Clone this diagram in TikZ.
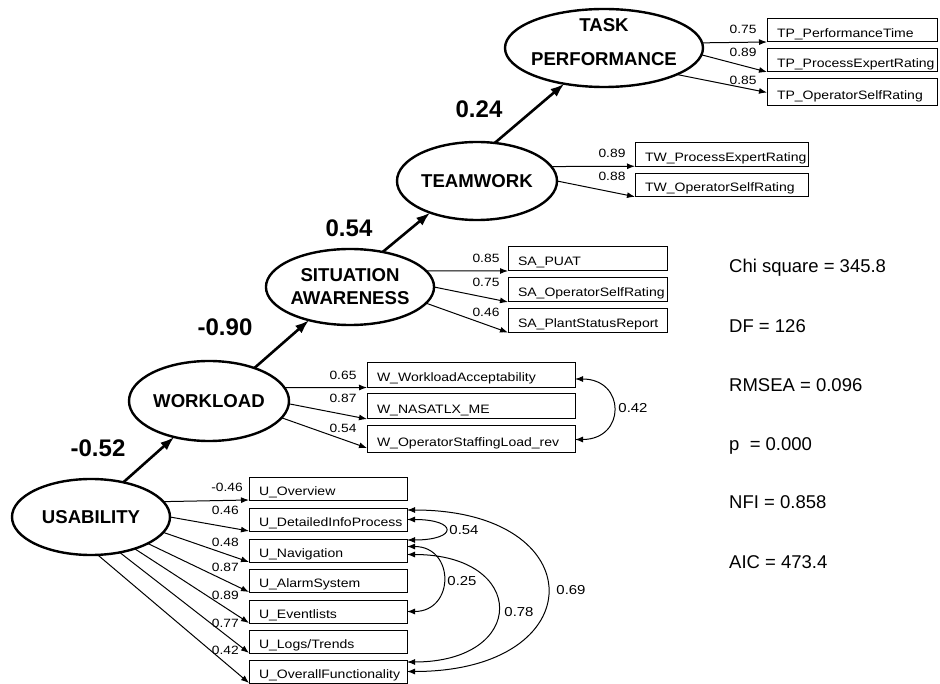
\documentclass[tikz,border=0pt]{standalone}
\usepackage{fontspec}
\setmainfont{Liberation Sans}
\newfontfamily\lblfont[FakeStretch=1.15]{Liberation Sans}
\usetikzlibrary{arrows.meta}
\usetikzlibrary{shapes.geometric}
\usetikzlibrary{calc}

\begin{document}
\begin{tikzpicture}[x=1pt,y=-1pt]
    \tikzstyle{lat} = [draw,ellipse,line width=2.4pt,inner sep=0pt,outer sep=0pt,align=center,font=\fontsize{18.6}{23}\selectfont\bfseries]
    \tikzstyle{obs} = [draw,rectangle,line width=1pt,anchor=west,inner xsep=10pt,inner ysep=0pt,outer sep=0pt,text width=#1,align=left,text height=16pt,text depth=2pt,font=\lblfont\fontsize{12.2}{14}\selectfont]
    \tikzstyle{num} = [inner sep=0pt,font=\lblfont\fontsize{12}{13}\selectfont]
    \tikzstyle{cnum} = [inner sep=0pt,font=\lblfont\fontsize{13}{14}\selectfont]
    \tikzstyle{coef} = [inner sep=0pt,font=\fontsize{24}{26}\selectfont\bfseries]
    \tikzstyle{stat} = [anchor=base west,inner sep=0pt,font=\fontsize{18.5}{20}\selectfont]
    \tikzstyle{reg} = [draw,line width=2.6pt,-{Latex[length=14pt,width=10pt]}]
    \tikzstyle{ld} = [draw,line width=1pt,-{Latex[length=8pt,width=6pt]}]
    \tikzstyle{cov} = [draw,line width=1pt,{Latex[length=8pt,width=6pt]}-{Latex[length=8pt,width=6pt]}]
    \useasboundingbox (0,0) rectangle (940,684);
    %% latent variables
    \node[lat,minimum width=158pt,minimum height=76pt] (us) at (91,517) {USABILITY};
    \node[lat,minimum width=160pt,minimum height=80pt] (wl) at (209,401) {WORKLOAD};
    \node[lat,minimum width=156pt,minimum height=76pt] (sa) at (350,287) {SITUATION\\AWARENESS};
    \node[lat,minimum width=160pt,minimum height=78pt] (tw) at (477,181) {TEAMWORK};
    \node[lat,minimum width=198pt,minimum height=78pt] (tp) at (604,48) {};
    \node[lat,draw=none,align=center,font=\fontsize{18.6}{34}\selectfont\bfseries] (tptxt) at (604,42) {TASK\\PERFORMANCE};
    %% structural paths
    \path[reg] (us.47) -- (wl.226);
    \path[reg] (wl.36) -- (sa.219);
    \path[reg] (sa.47) -- (tw.214);
    \path[reg] (tw.65) -- (tp.222);
    \node[coef] (c1) at (98,448) {-0.52};
    \node[coef] (c2) at (225,327) {-0.90};
    \node[coef] (c3) at (349,228) {0.54};
    \node[coef] (c4) at (479,109) {0.24};
    %% task performance
    \node[obs=150pt,minimum height=23pt] (tp1) at (767,30.5) {TP\_PerformanceTime};
    \node[obs=150pt,minimum height=23pt] (tp2) at (767,60.5) {TP\_ProcessExpertRating};
    \node[obs=150pt,minimum height=27pt] (tp3) at (767,92.5) {TP\_OperatorSelfRating};
    \path[ld] (tp.3.5) -- (tp1.south west);
    \path[ld] (tp.-4.5) -- (tp2.south west);
    \path[ld] (tp.-20.7) -- (tp3.west);
    \node[num] (ltp1) at (743,29) {0.75};
    \node[num] (ltp2) at (743,52) {0.89};
    \node[num] (ltp3) at (743,80) {0.85};
    %% teamwork
    \node[obs=153pt,minimum height=23.5pt] (tw1) at (635,154.5) {TW\_ProcessExpertRating};
    \node[obs=153pt,minimum height=23.5pt] (tw2) at (635,185) {TW\_OperatorSelfRating};
    \path[ld] (tw.11.3) -- (tw1.south west);
    \path[ld] (tw.-0.7) -- (tw2.south west);
    \node[num] (ltw1) at (612,153) {0.89};
    \node[num] (ltw2) at (612,176) {0.88};
    %% situation awareness
    \node[obs=139pt,minimum height=24pt] (sa1) at (508,259) {SA\_PUAT};
    \node[obs=139pt,minimum height=24pt] (sa2) at (508,290) {SA\_OperatorSelfRating};
    \node[obs=139pt,minimum height=24pt] (sa3) at (508,320.5) {SA\_PlantStatusReport};
    \path[ld] (sa.12.3) -- (sa1.south west);
    \path[ld] (sa.0) -- (sa2.south west);
    \path[ld] (sa.-12) -- (sa3.south west);
    \node[num] (lsa1) at (486,258) {0.85};
    \node[num] (lsa2) at (486,282) {0.75};
    \node[num] (lsa3) at (486,312) {0.46};
    %% workload
    \node[obs=188pt,minimum height=25pt] (w1) at (367,375) {W\_WorkloadAcceptability};
    \node[obs=188pt,minimum height=25pt] (w2) at (367,406.5) {W\_NASATLX\_ME};
    \node[obs=188pt,minimum height=27pt] (w3) at (367,439.5) {W\_OperatorStaffingLoad\_rev};
    \path[ld] (wl.10.9) -- (w1.south west);
    \path[ld] (wl.-2.2) -- (w2.south west);
    \path[ld] (wl.-13.7) -- ($(w3.south west)+(0,-5)$);
    \node[num] (lw1) at (343,375) {0.65};
    \node[num] (lw2) at (343,398) {0.87};
    \node[num] (lw3) at (343,428) {0.54};
    \path[cov] ($(w1.east)+(0,4)$) .. controls +(51,0) and +(51,0) .. (w3.east);
    \node[cnum] (cw) at (633,408) {0.42};
    %% usability
    \node[obs=138pt,minimum height=23pt] (u1) at (249,488.5) {U\_Overview};
    \node[obs=138pt,minimum height=23pt] (u2) at (249,519.5) {U\_DetailedInfoProcess};
    \node[obs=138pt,minimum height=23pt] (u3) at (249,550.5) {U\_Navigation};
    \node[obs=138pt,minimum height=23pt] (u4) at (249,580.5) {U\_AlarmSystem};
    \node[obs=138pt,minimum height=23pt] (u5) at (249,611.5) {U\_Eventlists};
    \node[obs=138pt,minimum height=23pt] (u6) at (249,641.5) {U\_Logs/Trends};
    \node[obs=138pt,minimum height=23pt] (u7) at (249,671.5) {U\_OverallFunctionality};
    \path[ld] (us.12.6) -- (u1.south west);
    \path[ld] (us.0) -- (u2.south west);
    \path[ld] (us.-12.6) -- (u3.south west);
    \path[ld] (us.-25.3) -- (u4.south west);
    \path[ld] (us.-36.4) -- (u5.south west);
    \path[ld] (us.-51) -- (u6.south west);
    \path[ld] (us.-80) -- (u7.south west);
    \node[num,anchor=east] (lu1) at (243,487) {-0.46};
    \node[num,anchor=east] (lu2) at (239,510) {0.46};
    \node[num,anchor=east] (lu3) at (239,542) {0.48};
    \node[num,anchor=east] (lu4) at (239,567) {0.87};
    \node[num,anchor=east] (lu5) at (239,595) {0.89};
    \node[num,anchor=east] (lu6) at (239,623) {0.77};
    \node[num,anchor=east] (lu7) at (239,650) {0.42};
    \path[cov] (u2.east) .. controls +(51,0) and +(51,0) .. ($(u3.north east)+(0,1)$);
    \path[cov] ($(u3.east)+(0,-4)$) .. controls +(48,0) and +(48,0) .. (u5.east);
    \path[cov] ($(u3.east)+(0,4)$) .. controls +(121,0) and +(121,0) .. ($(u7.north east)+(0,2)$);
    \path[cov] ($(u2.north east)+(0,2)$) .. controls +(187,0) and +(187,0) .. (u7.east);
    \node[cnum] (cu1) at (464,530) {0.54};
    \node[cnum] (cu2) at (462,581) {0.25};
    \node[cnum] (cu3) at (519,612) {0.78};
    \node[cnum] (cu4) at (571,590) {0.69};
    %% fit
    \node[stat] (chi) at (729,273) {Chi square = 345.8};
    \node[stat] (df) at (729,333) {DF = 126};
    \node[stat] (rmsea) at (729,392) {RMSEA = 0.096};
    \node[stat] (pval) at (729,450) {p\ \ = 0.000};
    \node[stat] (nfi) at (729,508) {NFI = 0.858};
    \node[stat] (aic) at (729,568) {AIC = 473.4};
\end{tikzpicture}
\end{document}
